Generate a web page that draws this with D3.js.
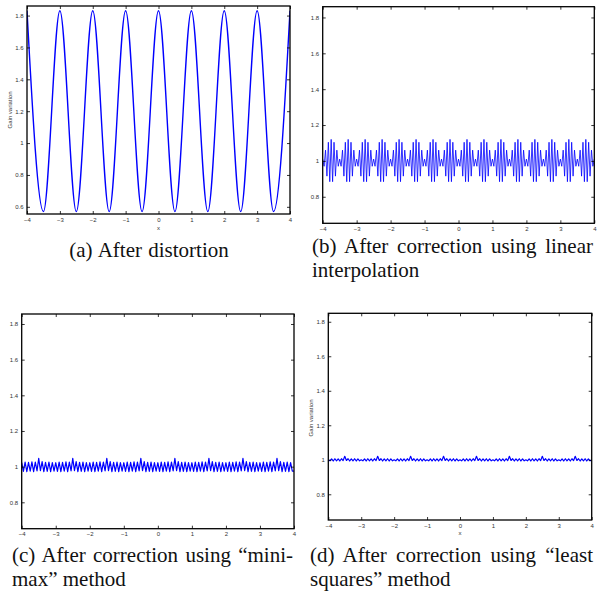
<!DOCTYPE html>
<html lang="en">
<head>
<meta charset="UTF-8">
<title>Gain variation before and after correction</title>
<script src="https://d3js.org/d3.v7.min.js"></script>
<style>
  body { margin: 0; background: #fff; }
  svg { display: block; }
  .tick text { font-family: "Liberation Sans", Arial, sans-serif; font-size: 6px; fill: #333; }
  .axis path.domain { display: none; }
  .tick line { stroke: #000; stroke-width: 0.8px; }
  .lab { font-family: "Liberation Sans", Arial, sans-serif; font-size: 6px; fill: #333; }
  .caption { font-family: "Liberation Serif", "Times New Roman", serif; font-size: 21px; fill: #111; }
</style>
</head>
<body>
<svg width="599" height="593"></svg>
<script>
// tick values
const xTicks = [-4, -3, -2, -1, 0, 1, 2, 3, 4];
const yTicksA = [0.6, 0.8, 1, 1.2, 1.4, 1.6, 1.8];
const yTicksB = [0.8, 1, 1.2, 1.4, 1.6, 1.8];

// (a) after distortion: extrema of the gain curve
const distortX = [-4, -3.5, -3, -2.5, -2, -1.5, -1, -0.5, 0, 0.5, 1, 1.5, 2, 2.5, 3, 3.5, 4];
const distortY = [1.83, 0.57, 1.83, 0.57, 1.83, 0.57, 1.83, 0.57, 1.83,
                  0.57, 1.83, 0.57, 1.83, 0.57, 1.83, 0.57, 1.83];

// (b) linear interpolation: extrema, evenly spaced from -4 to 4 (one burst per line)
const linearY = [
  1.01,0.97,1.06,0.915,1.104,0.884,1.12,0.884,1.104,0.915,1.06,0.97,
  1.01,0.97,1.06,0.915,1.104,0.884,1.12,0.884,1.104,0.915,1.06,0.97,
  1.01,0.97,1.06,0.915,1.104,0.884,1.12,0.884,1.104,0.915,1.06,0.97,
  1.01,0.97,1.06,0.915,1.104,0.884,1.12,0.884,1.104,0.915,1.06,0.97,
  1.01,0.97,1.06,0.915,1.104,0.884,1.12,0.884,1.104,0.915,1.06,0.97,
  1.01,0.97,1.06,0.915,1.104,0.884,1.12,0.884,1.104,0.915,1.06,0.97,
  1.01,0.97,1.06,0.915,1.104,0.884,1.12,0.884,1.104,0.915,1.06,0.97,
  1.01,0.97,1.06,0.915,1.104,0.884,1.12,0.884,1.104,0.915,1.06,0.97,
  1.01,0.97,1.06,0.915,1.104,0.884,1.12,0.884,1.104,0.915,1.06,0.97,
  1.01,0.97,1.06,0.915,1.104,0.884,1.12,0.884,1.104,0.915,1.06,0.97,
  1.01,0.97,1.06,0.915,1.104,0.884,1.12,0.884,1.104,0.915,1.06,0.97,
  1.01,0.97,1.06,0.915,1.104,0.884,1.12,0.884,1.104,0.915,1.06,0.97,
  1.01,0.97,1.06,0.915,1.104,0.884,1.12,0.884,1.104,0.915,1.06,0.97,
  1.01,0.97,1.06,0.915,1.104,0.884,1.12,0.884,1.104,0.915,1.06,0.97,
  1.01,0.97,1.06,0.915,1.104,0.884,1.12,0.884,1.104,0.915,1.06,0.97,
  1.01,0.97,1.06,0.915,1.104,0.884,1.12,0.884,1.104,0.915,1.06,0.97,
  1.01
];

// (c) minimax: extrema every 0.05, one unit of x per line
const minimaxY = [
  1.022,0.973,1.026,0.972,1.024,0.975,1.027,0.972,1.025,0.976,1.046,0.978,1.028,0.972,1.024,0.974,1.026,0.972,1.023,0.975,
  1.022,0.973,1.026,0.972,1.024,0.975,1.027,0.972,1.025,0.976,1.046,0.978,1.028,0.972,1.024,0.974,1.026,0.972,1.023,0.975,
  1.022,0.973,1.026,0.972,1.024,0.975,1.027,0.972,1.025,0.976,1.046,0.978,1.028,0.972,1.024,0.974,1.026,0.972,1.023,0.975,
  1.022,0.973,1.026,0.972,1.024,0.975,1.027,0.972,1.025,0.976,1.046,0.978,1.028,0.972,1.024,0.974,1.026,0.972,1.023,0.975,
  1.022,0.973,1.026,0.972,1.024,0.975,1.027,0.972,1.025,0.976,1.046,0.978,1.028,0.972,1.024,0.974,1.026,0.972,1.023,0.975,
  1.022,0.973,1.026,0.972,1.024,0.975,1.027,0.972,1.025,0.976,1.046,0.978,1.028,0.972,1.024,0.974,1.026,0.972,1.023,0.975,
  1.022,0.973,1.026,0.972,1.024,0.975,1.027,0.972,1.025,0.976,1.046,0.978,1.028,0.972,1.024,0.974,1.026,0.972,1.023,0.975,
  1.022,0.973,1.026,0.972,1.024,0.975,1.027,0.972,1.025,0.976,1.046,0.978,1.028,0.972,1.024,0.974,1.026,0.972,1.023,0.975,
  0.975
];

// (d) least squares: extrema every 0.05, one unit of x per line
const leastSqY = [
  1.000,0.994,1.005,0.993,1.006,0.994,1.005,0.993,1.006,0.995,1.020,0.996,1.006,0.993,1.005,0.994,1.006,0.993,1.005,0.994,
  1.000,0.994,1.005,0.993,1.006,0.994,1.005,0.993,1.006,0.995,1.020,0.996,1.006,0.993,1.005,0.994,1.006,0.993,1.005,0.994,
  1.000,0.994,1.005,0.993,1.006,0.994,1.005,0.993,1.006,0.995,1.020,0.996,1.006,0.993,1.005,0.994,1.006,0.993,1.005,0.994,
  1.000,0.994,1.005,0.993,1.006,0.994,1.005,0.993,1.006,0.995,1.020,0.996,1.006,0.993,1.005,0.994,1.006,0.993,1.005,0.994,
  1.000,0.994,1.005,0.993,1.006,0.994,1.005,0.993,1.006,0.995,1.020,0.996,1.006,0.993,1.005,0.994,1.006,0.993,1.005,0.994,
  1.000,0.994,1.005,0.993,1.006,0.994,1.005,0.993,1.006,0.995,1.020,0.996,1.006,0.993,1.005,0.994,1.006,0.993,1.005,0.994,
  1.000,0.994,1.005,0.993,1.006,0.994,1.005,0.993,1.006,0.995,1.020,0.996,1.006,0.993,1.005,0.994,1.006,0.993,1.005,0.994,
  1.000,0.994,1.005,0.993,1.006,0.994,1.005,0.993,1.006,0.995,1.020,0.996,1.006,0.993,1.005,0.994,1.006,0.993,1.005,0.994,
  0.998
];

const svg = d3.select("svg");

// x values on an even grid from -4 to 4
function grid(n) { return d3.range(n).map(i => -4 + i * 8 / (n - 1)); }
const fmt = d => d < 0 ? "\u2212" + (-d) : String(d);

const panels = [
  { id: "a", box: [27, 6, 290, 214], yDomain: [0.555, 1.86], yTicks: yTicksA,
    xs: distortX, ys: distortY, curve: d3.curveMonotoneX, width: 1.4,
    yLabel: [12, 110], xLabel: 228 },
  { id: "b", box: [322.7, 6.7, 594.3, 223.3], yDomain: [0.652, 1.86], yTicks: yTicksB,
    xs: grid(linearY.length), ys: linearY, curve: d3.curveLinear, width: 0.8 },
  { id: "c", box: [21.7, 314, 294, 528.7], yDomain: [0.652, 1.856], yTicks: yTicksB,
    xs: grid(minimaxY.length), ys: minimaxY, curve: d3.curveLinear, width: 1.2 },
  { id: "d", box: [328.3, 313.3, 591.7, 520], yDomain: [0.651, 1.849], yTicks: yTicksB,
    xs: grid(leastSqY.length), ys: leastSqY, curve: d3.curveLinear, width: 1.2,
    yLabel: [312.7, 418], xLabel: 533 }
];

panels.forEach(p => {
  const [l, t, r, b] = p.box;
  const x = d3.scaleLinear().domain([-4, 4]).range([l, r]);
  const y = d3.scaleLinear().domain(p.yDomain).range([b, t]);
  const g = svg.append("g");

  g.append("clipPath").attr("id", "clip-" + p.id)
    .append("rect").attr("x", l).attr("y", t).attr("width", r - l).attr("height", b - t);

  const line = d3.line().x(d => x(d[0])).y(d => y(d[1])).curve(p.curve);
  g.append("path")
    .datum(p.xs.map((v, i) => [v, p.ys[i]]))
    .attr("clip-path", `url(#clip-${p.id})`)
    .attr("fill", "none")
    .attr("stroke", "#0000ff")
    .attr("stroke-width", p.width)
    .attr("stroke-linejoin", "round")
    .attr("d", line);

  g.append("g").attr("class", "axis").attr("transform", `translate(0,${b})`)
    .call(d3.axisBottom(x).tickValues(xTicks).tickSize(-3).tickPadding(3.5).tickFormat(fmt));
  g.append("g").attr("class", "axis").attr("transform", `translate(0,${t})`)
    .call(d3.axisTop(x).tickValues(xTicks).tickSize(-3).tickFormat(""));
  g.append("g").attr("class", "axis").attr("transform", `translate(${l},0)`)
    .call(d3.axisLeft(y).tickValues(p.yTicks).tickSize(-3).tickPadding(3.5).tickFormat(fmt));
  g.append("g").attr("class", "axis").attr("transform", `translate(${r},0)`)
    .call(d3.axisRight(y).tickValues(p.yTicks).tickSize(-3).tickFormat(""));

  g.append("rect")
    .attr("x", l).attr("y", t).attr("width", r - l).attr("height", b - t)
    .attr("fill", "none").attr("stroke", "#000").attr("stroke-width", 1.3);

  if (p.yLabel) {
    g.append("text").attr("class", "lab")
      .attr("transform", `translate(${p.yLabel[0]},${p.yLabel[1]}) rotate(-90)`)
      .attr("text-anchor", "middle").text("Gain variation");
  }
  if (p.xLabel) {
    g.append("text").attr("class", "lab")
      .attr("x", (l + r) / 2).attr("y", p.xLabel + 2)
      .attr("text-anchor", "middle").text("x");
  }
});

// captions: a tspan per line, first line justified to the column
function caption(lines, x0, x1, y0) {
  const text = svg.append("text").attr("class", "caption");
  lines.forEach((s, li) => {
    const span = text.append("tspan").attr("x", x0).attr("y", y0 + li * 24).text(s);
    if (li < lines.length - 1) {
      const spaces = s.split(" ").length - 1;
      const extra = (x1 - x0 - span.node().getComputedTextLength()) / spaces;
      span.style("word-spacing", extra + "px");
    }
  });
}

// (a) is a single centred line
svg.append("text").attr("class", "caption")
  .attr("x", 149).attr("y", 257).attr("text-anchor", "middle")
  .style("word-spacing", "1px")
  .text("(a) After distortion");

caption(["(b) After correction using linear", "interpolation"], 312, 593, 253);
caption(["(c) After correction using \u201cmini-", "max\u201d method"], 12, 293, 562);
caption(["(d) After correction using \u201cleast", "squares\u201d method"], 310, 593, 562);
</script>
</body>
</html>
